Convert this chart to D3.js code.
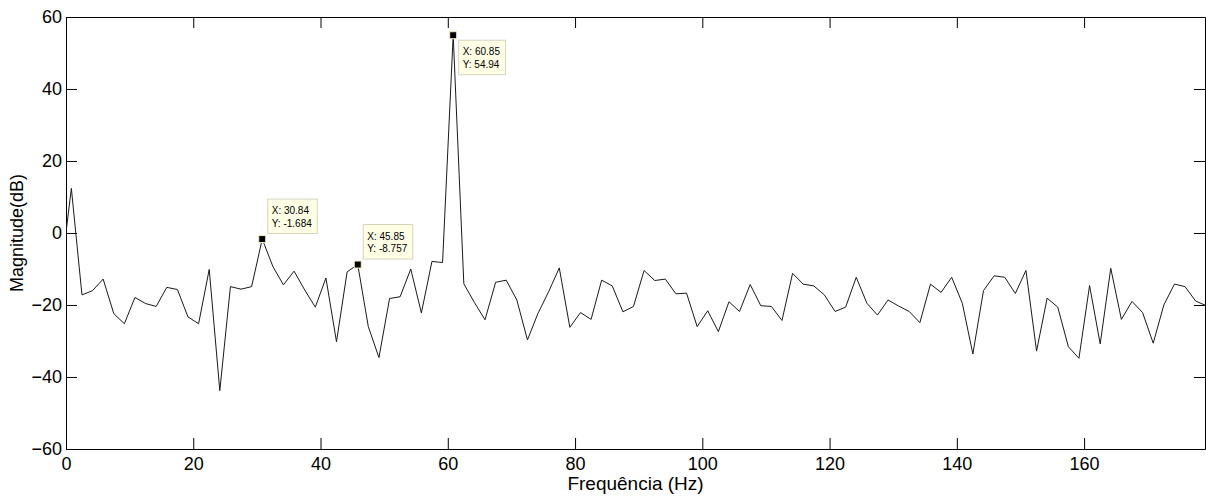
<!DOCTYPE html>
<html lang="pt">
<head>
    <meta charset="UTF-8">
    <title>Espectro de Magnitude</title>
    <script src="https://d3js.org/d3.v7.min.js"></script>
    <style>
        body { margin: 0; background: #fff; }
        svg { display: block; font-family: "Liberation Sans", Arial, sans-serif; }
        .tick line { stroke: #000; }
        .domain { stroke: #000; }
    </style>
</head>
<body>
    <svg width="1206" height="497"></svg>
    <script>
        // frequency bins (Hz)
        const freq = [-0.83, 0.84, 2.51, 4.17, 5.84, 7.51, 9.17, 10.84, 12.51, 14.17, 15.84,
            17.51, 19.17, 20.84, 22.51, 24.17, 25.84, 27.51, 29.17, 30.84, 32.51,
            34.17, 35.84, 37.51, 39.18, 40.85, 42.51, 44.18, 45.85, 47.51, 49.18,
            50.85, 52.51, 54.18, 55.85, 57.51, 59.18, 60.85, 62.52, 64.18, 65.85,
            67.52, 69.18, 70.85, 72.52, 74.18, 75.85, 77.52, 79.18, 80.85, 82.52,
            84.18, 85.85, 87.52, 89.18, 90.85, 92.52, 94.19, 95.85, 97.52, 99.19,
            100.85, 102.52, 104.19, 105.85, 107.52, 109.19, 110.85, 112.52, 114.19, 115.85,
            117.52, 119.19, 120.86, 122.52, 124.19, 125.86, 127.52, 129.19, 130.86, 132.52,
            134.19, 135.86, 137.52, 139.19, 140.86, 142.52, 144.19, 145.86, 147.53, 149.19,
            150.86, 152.53, 154.19, 155.86, 157.53, 159.19, 160.86, 162.53, 164.19, 165.86,
            167.53, 169.19, 170.86, 172.53, 174.20, 175.86, 177.53, 179.20];

        // magnitude (dB)
        const mag = [-12.0, 12.4, -17.2, -16.0, -12.8, -22.4, -25.2, -17.9, -19.6, -20.4, -15.1,
            -15.7, -23.3, -25.2, -10.1, -43.8, -14.9, -15.6, -14.9, -1.684, -9.3,
            -14.4, -10.6, -15.8, -20.6, -12.5, -30.2, -10.8, -8.757, -26.0, -34.6,
            -18.2, -17.7, -10.0, -22.2, -7.9, -8.2, 54.94, -14.1, -19.3, -24.1,
            -13.7, -13.1, -18.6, -29.7, -22.3, -16.3, -9.7, -26.2, -22.1, -24.0,
            -13.1, -14.7, -21.9, -20.4, -10.4, -13.2, -12.8, -16.9, -16.7, -26.0,
            -21.6, -27.4, -19.1, -21.8, -14.3, -20.2, -20.4, -24.3, -11.2, -14.2,
            -14.7, -17.2, -21.8, -20.6, -12.3, -19.5, -22.8, -18.6, -20.3, -21.8,
            -24.9, -14.2, -16.5, -12.3, -19.5, -33.6, -16.0, -11.9, -12.3, -16.8,
            -10.4, -32.8, -18.1, -20.6, -31.6, -34.8, -14.6, -30.8, -9.8, -24.0,
            -19.0, -22.1, -30.6, -20.0, -14.2, -14.9, -18.9, -20.2];

        // data tips
        const tipFreq = [30.84, 45.85, 60.85];
        const tipMag = [-1.684, -8.757, 54.94];
        const tipSide = ["above", "above", "below"];

        const xTicks = [0, 20, 40, 60, 80, 100, 120, 140, 160];
        const yTicks = [-60, -40, -20, 0, 20, 40, 60];

        const margin = { top: 17, right: 1, bottom: 48, left: 66 };
        const width = 1139;
        const height = 432;

        const svg = d3.select("svg")
            .append("g")
            .attr("transform", `translate(${margin.left},${margin.top})`);

        const x = d3.scaleLinear().domain([0, 179]).range([0, width]);
        const y = d3.scaleLinear().domain([-60, 60]).range([height, 0]);

        svg.append("defs").append("clipPath").attr("id", "plotclip")
            .append("rect").attr("width", width).attr("height", height);

        // axes (ticks point inwards, box on)
        svg.append("g")
            .attr("transform", `translate(0,${height})`)
            .call(d3.axisBottom(x).tickValues(xTicks).tickSize(-11).tickSizeOuter(0).tickPadding(8))
            .call(g => g.selectAll("text").attr("font-size", 18).attr("fill", "#000"));

        svg.append("g")
            .call(d3.axisTop(x).tickValues(xTicks).tickSize(-11).tickSizeOuter(0).tickFormat(""));

        svg.append("g")
            .call(d3.axisLeft(y).tickValues(yTicks).tickSize(-11).tickSizeOuter(0).tickPadding(4))
            .call(g => g.selectAll("text").attr("font-size", 18).attr("fill", "#000"));

        svg.append("g")
            .attr("transform", `translate(${width},0)`)
            .call(d3.axisRight(y).tickValues(yTicks).tickSize(-11).tickSizeOuter(0).tickFormat(""));

        // axis labels
        svg.append("text")
            .attr("x", width / 2)
            .attr("y", height + 41)
            .attr("text-anchor", "middle")
            .attr("font-size", 19)
            .text("Frequência (Hz)");

        svg.append("text")
            .attr("transform", "rotate(-90)")
            .attr("x", -height / 2)
            .attr("y", -43)
            .attr("text-anchor", "middle")
            .attr("font-size", 18)
            .text("Magnitude(dB)");

        // spectrum line
        const line = d3.line()
            .x((d, i) => x(freq[i]))
            .y(d => y(d));

        svg.append("path")
            .datum(mag)
            .attr("clip-path", "url(#plotclip)")
            .attr("fill", "none")
            .attr("stroke", "#1a1a1a")
            .attr("stroke-width", 1)
            .attr("d", line);

        // data tips
        tipFreq.forEach((f, i) => {
            const mx = x(f), my = y(tipMag[i]);
            svg.append("rect")
                .attr("x", mx - 3.5).attr("y", my - 3.5)
                .attr("width", 7).attr("height", 7)
                .attr("fill", "#000")
                .attr("stroke", "#f4f0c8")
                .attr("stroke-width", 1);

            const top = tipSide[i] === "above" ? my - 5.5 - 34.5 : my + 5;
            const left = mx + 5.5;
            const tip = svg.append("g").attr("transform", `translate(${left},${top})`);
            const box = tip.append("rect")
                .attr("height", 34.5)
                .attr("fill", "#ffffe6")
                .attr("stroke", "#d4d4c0")
                .attr("stroke-width", 1);
            const t1 = tip.append("text").attr("x", 4).attr("y", 15)
                .attr("font-size", 10).attr("fill", "#000").text("X: " + f.toFixed(2));
            const t2 = tip.append("text").attr("x", 4).attr("y", 27.7)
                .attr("font-size", 10).attr("fill", "#000").text("Y: " + tipMag[i]);
            const w = Math.max(t1.node().getComputedTextLength(), t2.node().getComputedTextLength());
            box.attr("width", w + 9.5);
        });
    </script>
</body>
</html>
